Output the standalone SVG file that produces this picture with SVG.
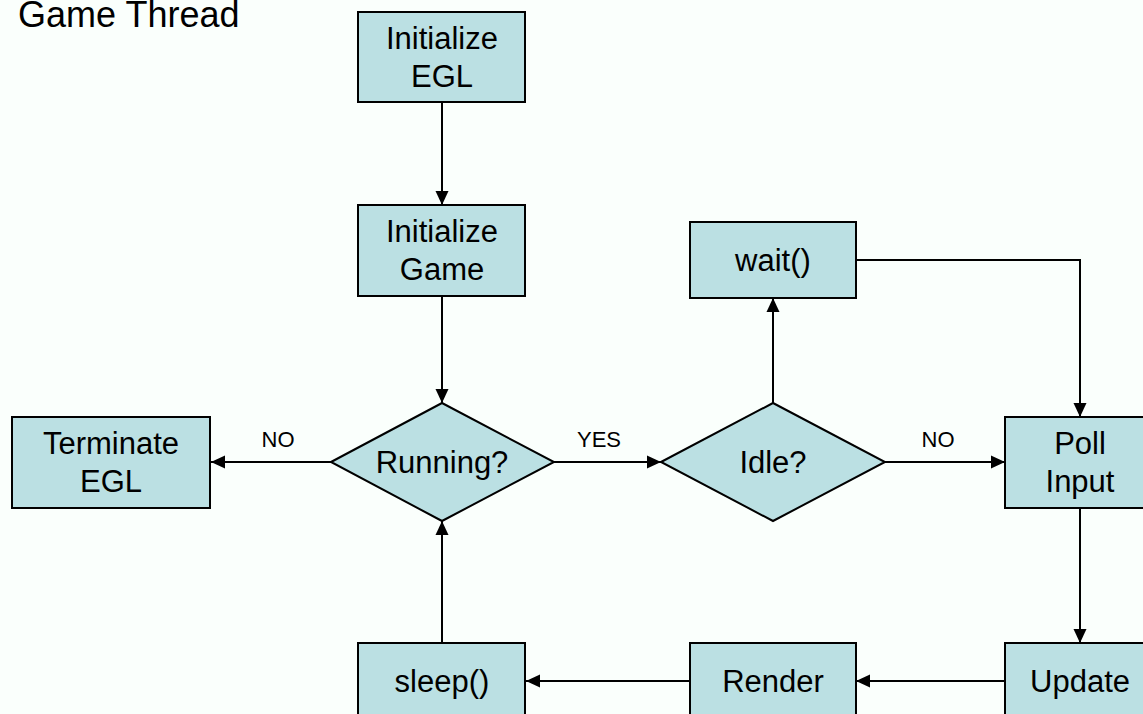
<svg xmlns="http://www.w3.org/2000/svg" width="1143" height="714" viewBox="0 0 1143 714">
<style>
.n{fill:#BBE0E3;stroke:#000;stroke-width:2}
.t{font-family:"Liberation Sans",Arial,sans-serif;font-size:31px;fill:#000;text-anchor:middle}
.l{font-family:"Liberation Sans",Arial,sans-serif;font-size:22px;fill:#000;text-anchor:middle}
.c{fill:none;stroke:#000;stroke-width:2;marker-end:url(#a)}
</style>
<defs>
<marker id="a" viewBox="0 0 14 14" refX="14" refY="7" markerWidth="14" markerHeight="14" markerUnits="userSpaceOnUse" orient="auto">
<path d="M0,0.5 L14,7 L0,13.5 z" fill="#000"/>
</marker>
</defs>
<rect width="1143" height="714" fill="#FAFFFC"/>
<text x="18" y="27" font-family="Liberation Sans,Arial,sans-serif" font-size="36" fill="#000">Game Thread</text>
<g id="connectors">
<path class="c" d="M442,102 V205"/>
<path class="c" d="M442,296 V403"/>
<path class="c" d="M331,462 H211"/>
<path class="c" d="M554,462 H661"/>
<path class="c" d="M773,403 V298"/>
<path class="c" d="M856,260 H1080 V417"/>
<path class="c" d="M885,462 H1005"/>
<path class="c" d="M1080,508 V643"/>
<path class="c" d="M1005,681 H856"/>
<path class="c" d="M690,681 H526"/>
<path class="c" d="M442,643 V521"/>
<text class="l" x="278" y="447">NO</text>
<text class="l" x="599" y="447">YES</text>
<text class="l" x="938" y="447">NO</text>
</g>
<g id="initEGL"><rect class="n" x="358" y="12" width="167" height="90"/><text class="t" x="442" y="49">Initialize</text><text class="t" x="442" y="87">EGL</text></g>
<g id="initGame"><rect class="n" x="358" y="205" width="167" height="91"/><text class="t" x="442" y="242">Initialize</text><text class="t" x="442" y="280">Game</text></g>
<g id="terminate"><rect class="n" x="12" y="417" width="198" height="91"/><text class="t" x="111" y="454">Terminate</text><text class="t" x="111" y="492">EGL</text></g>
<g id="running"><polygon class="n" points="331,462 442,403 554,462 442,521"/><text class="t" x="442" y="473">Running?</text></g>
<g id="idle"><polygon class="n" points="661,462 773,403 885,462 773,521"/><text class="t" x="773" y="473">Idle?</text></g>
<g id="wait"><rect class="n" x="690" y="222" width="166" height="76"/><text class="t" x="773" y="271">wait()</text></g>
<g id="poll"><rect class="n" x="1005" y="417" width="150" height="91"/><text class="t" x="1080" y="454">Poll</text><text class="t" x="1080" y="492">Input</text></g>
<g id="sleep"><rect class="n" x="358" y="643" width="167" height="91"/><text class="t" x="442" y="692">sleep()</text></g>
<g id="render"><rect class="n" x="690" y="643" width="166" height="91"/><text class="t" x="773" y="692">Render</text></g>
<g id="update"><rect class="n" x="1005" y="643" width="150" height="91"/><text class="t" x="1080" y="692">Update</text></g>
</svg>
